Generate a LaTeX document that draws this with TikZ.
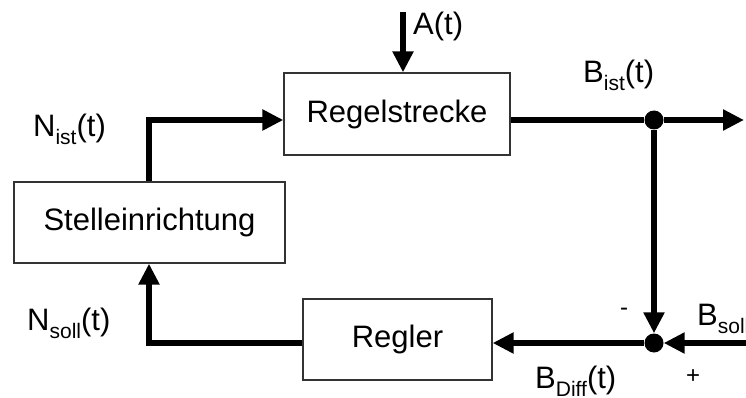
\documentclass[tikz,border=0pt]{standalone}
\usepackage{fontspec}
\setmainfont{Liberation Sans}
\usetikzlibrary{arrows.meta}
% lowered, smaller index text
\newcommand\idx[1]{\raisebox{-8pt}{\fontsize{21}{21}\selectfont #1}}
\begin{document}
\begin{tikzpicture}[x=1pt,y=-1pt,
  blockbox/.style={draw=black!80, line width=1.3pt, fill=white,
    font=\fontsize{31}{36}\selectfont, inner sep=0pt},
  wire/.style={line width=6pt},
  sig/.style={line width=6pt, -{Triangle[length=21pt,width=20pt]}},
  lbl/.style={font=\fontsize{31}{36}\selectfont, inner sep=0pt, anchor=base west},
  dotnode/.style={circle, fill=black, minimum size=19pt, inner sep=0pt}]
  \useasboundingbox (0,0) rectangle (746,398);
  \clip (0,0) rectangle (746,398);

  % blocks
  \node[blockbox, minimum width=226pt, minimum height=82pt] (rs) at (397,114) {Regelstrecke};
  \node[blockbox, minimum width=271pt, minimum height=81pt] (st) at (149.5,222.5) {Stelleinrichtung};
  \node[blockbox, minimum width=189pt, minimum height=81pt] (rg) at (397.5,339.5) {Regler};

  % branch and summing points
  \node[dotnode] (j1) at (654,120) {};
  \node[dotnode] (j2) at (654,343) {};

  % free ends
  \coordinate (ain) at (403,12);
  \coordinate (bout) at (744,120);
  \coordinate (bsoll) at (760,343);
  \coordinate (c1) at (149,120);
  \coordinate (c2) at (149,343);

  % disturbance input
  \draw[sig] (ain) -- (ain |- rs.north);
  % plant output
  \draw[wire] (rs.east |- j1) -- (j1);
  \draw[sig] (j1) -- (bout);
  % actuator to plant
  \draw[sig] (st.north -| c1) -- (c1) -- (rs.west |- c1);
  % feedback
  \draw[sig] (j1) -- (j2);
  \draw[sig] (bsoll) -- (j2);
  \draw[sig] (j2) -- (rg.east |- j2);
  \draw[sig] (rg.west |- c2) -- (c2) -- (st.south -| c2);

  % signal labels
  \node[lbl] (la) at (413,35) {A(t)};
  \node[lbl] (lbist) at (583,83) {B\idx{ist}(t)};
  \node[lbl] (lnist) at (33,137) {N\idx{ist}(t)};
  \node[lbl] (lnsoll) at (27,330) {N\idx{soll}(t)};
  \node[lbl] (lbdiff) at (535,388) {B\idx{Diff}(t)};
  \node[lbl] (lbsoll) at (697,325) {B\idx{soll}(t)};
  \node[font=\fontsize{24}{24}\selectfont, inner sep=0pt] (lminus) at (624,312) {-};
  \node[font=\fontsize{24}{24}\selectfont, inner sep=0pt] (lplus) at (693,377) {+};
\end{tikzpicture}
\end{document}
